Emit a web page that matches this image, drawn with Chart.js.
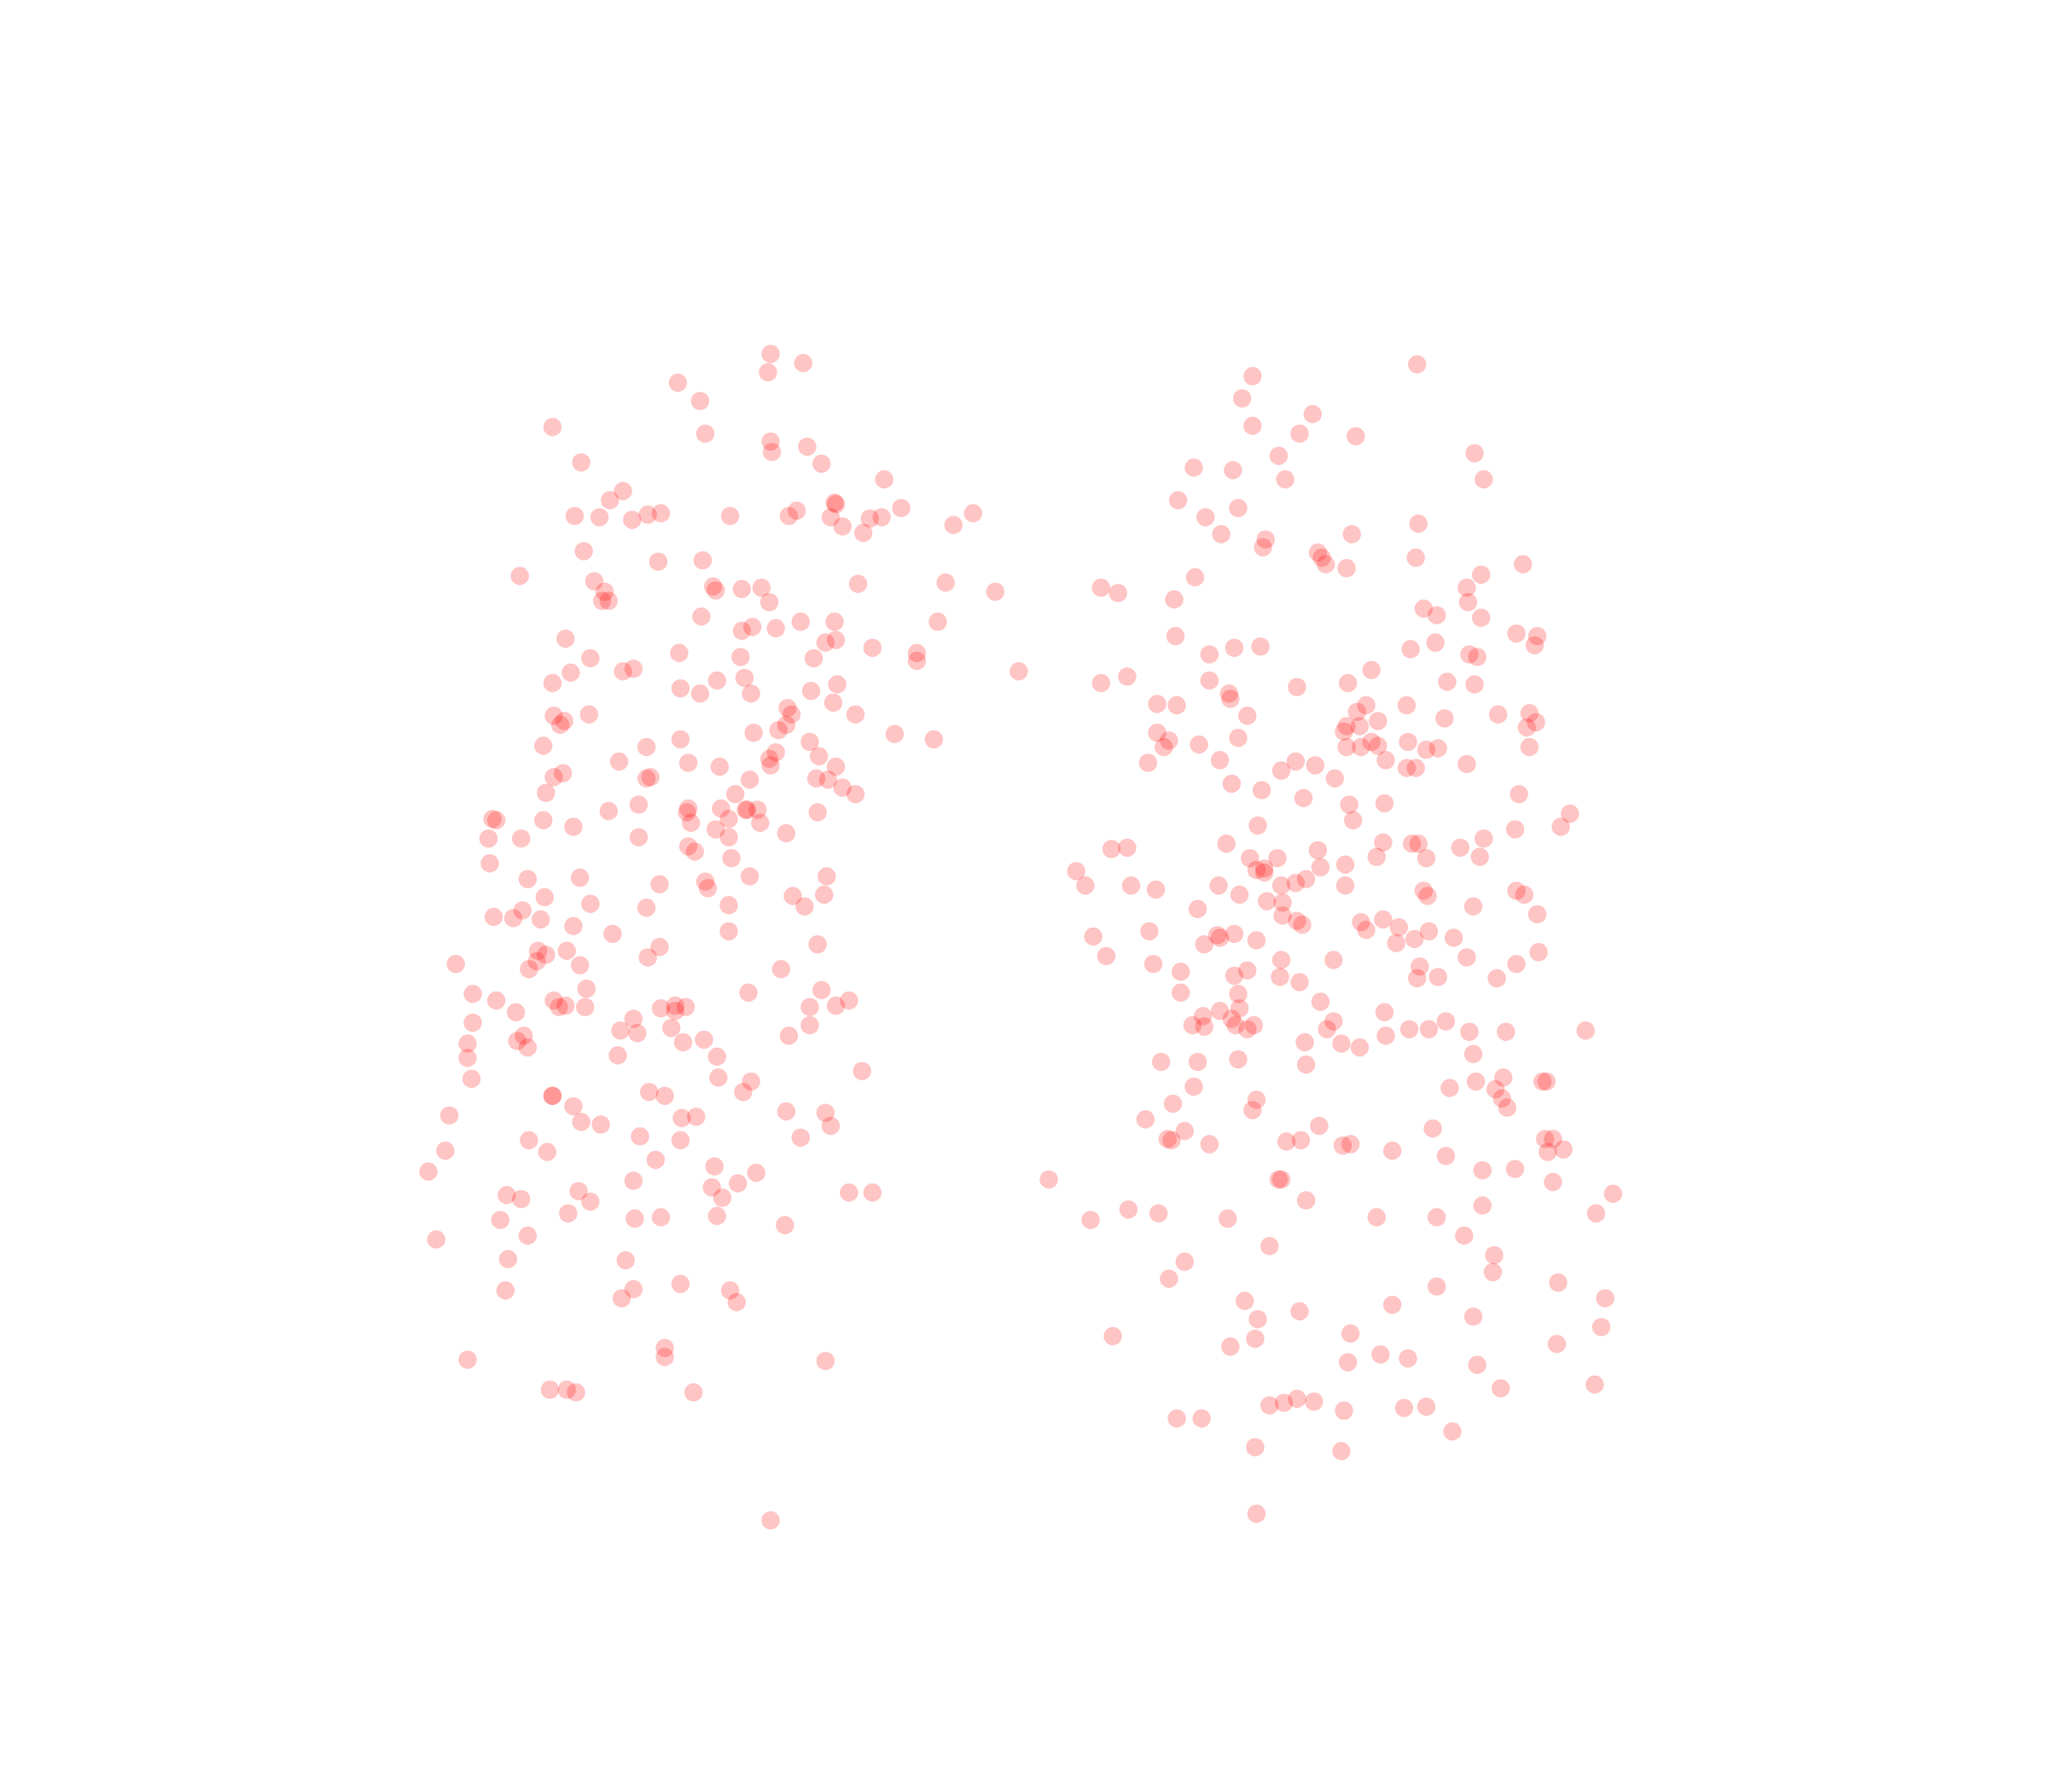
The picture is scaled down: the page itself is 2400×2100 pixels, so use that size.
<!DOCTYPE html>
<html>
<head>
<meta charset="utf-8">
<title>scatter</title>
<script src="https://cdn.jsdelivr.net/npm/chart.js@4/dist/chart.umd.min.js"></script>
<style>
  html, body { margin: 0; padding: 0; background: #fff; }
  canvas { display: block; }
</style>
</head>
<body>
<canvas id="myChart" width="2400" height="2100"></canvas>
<script>
'use strict';

// values, left group
let leftX = [590,615,588,519,536,423,540,590,591,618,445,629,677,477,467,440,459,484,496,506,559,604,610,639,640,636,645,661,666,675,690,730,745,
  447,504,538,398,455,463,461,466,546,548,568,583,589,657,724,762,537,613,639,718,568,576,594,433,632,640,668,520,567,623,702,702,452,437,477,485,780,
  423,570,549,521,536,575,621,641,638,603,606,602,596,655,451,424,432,429,577,685,715,521,620,416,495,474,527,551,594,589,590,627,640,574,625,634,645,655,
  431,424,495,498,418,563,489,466,527,526,552,571,572,580,558,529,582,626,416,377,380,439,548,558,602,374,399,489,527,532,560,375,404,444,505,540,542,574,633,
  417,607,631,616,558,452,495,400,378,393,414,439,558,469,626,505,412,418,434,496,411,405,444,349,598,449,362,573,629,380,424,428,433,448,395,506,517,517,525,620,640,650,
  362,485,475,488,514,620,401,396,404,358,523,539,604,358,473,549,361,550,660,575,497,509,569,423,423,439,344,445,460,522,533,602,632,636,405,490,521,613,419,341,502,547,328,579,
  485,565,545,443,388,399,452,553,650,668,435,383,486,506,549,601,404,334,389,479,521,485,387,476,559,564,509,509,358,632,421,434,441,531,590];
let leftY = [271,278,285,293,307,327,332,338,346,342,354,355,367,376,383,395,396,398,394,393,395,395,391,385,386,396,403,408,397,396,389,402,393,
  422,430,429,441,445,453,460,460,449,452,451,450,461,447,446,453,472,476,476,476,483,480,481,489,492,490,496,500,503,504,500,506,504,515,514,512,514,
  523,519,521,527,531,531,529,524,538,542,547,555,559,547,547,548,552,555,561,562,566,566,568,571,572,583,584,587,576,581,586,579,587,597,596,597,603,608,
  592,595,596,595,607,608,616,621,619,622,619,620,620,620,627,630,630,622,628,627,628,633,635,641,638,642,642,641,648,652,657,661,673,672,677,675,680,671,671,
  687,686,685,694,693,692,695,697,702,703,704,709,713,715,723,725,728,731,728,733,736,742,739,738,742,757,761,760,758,766,766,771,770,771,775,772,770,774,771,771,770,766,
  783,780,789,791,787,785,793,797,802,799,798,796,793,810,808,809,826,825,820,828,836,839,836,839,839,847,854,859,861,856,855,851,852,862,873,870,873,871,882,881,888,893,897,898,
  904,906,909,912,915,918,920,917,913,913,929,934,933,932,931,938,946,949,964,965,983,987,988,994,988,997,1032,1039,1041,1042,1064,1064,1066,1066,1164];

// values, right group
let rightX = [1085,959,951,1005,959,995,1038,1129,979,914,944,984,1136,902,948,923,1086,935,1035,969,967,1009,1012,1015,1031,1084,1166,1134,915,843,856,899,1123,1124,1090,1100,1134,900,1161,1177,1175,945,965,926,1080,1099,1125,1131,1050,
  843,863,926,993,1032,1108,1129,886,901,941,942,1077,1046,1039,955,1147,1171,1176,1106,1055,1031,1041,1029,1169,886,895,891,918,948,1031,1042,1050,1055,1078,1092,1101,1171,1061,879,934,992,981,1007,1077,1084,1123,1022,943,966,998,1163,1033,1060,1202,1036,963,1160,1195,1136,
  939,1059,1081,1086,1118,851,863,1009,1133,1054,1092,957,978,962,968,968,1011,1030,824,831,866,885,933,981,992,1000,1030,1161,1090,1093,1167,949,970,982,917,1128,982,993,997,1042,1059,1046,1071,1177,880,837,932,934,945,922,962,1094,1083,1069,1113,847,883,981,1021,1087,1123,1161,1178,904,955,945,980,995,1085,1101,1146,
  904,948,1011,949,934,921,913,922,943,946,955,960,1021,1016,1060,1079,1094,1107,1125,1153,1214,1061,999,1027,1041,1128,889,917,948,1000,914,1110,1130,1151,1145,1150,1154,1181,1184,898,962,959,877,907,1010,1097,894,897,926,985,996,1028,1034,1066,1183,1189,1185,1197,1107,1135,1160,803,979,981,1189,1000,1235,
  864,887,940,1054,1100,1135,1222,835,1121,972,1144,907,1143,895,1193,1100,953,1066,1229,995,963,1128,852,1034,961,1226,942,1192,1057,1078,1032,1131,1221,1149,972,983,993,1006,1029,1075,1092,901,920,1112,961,1027,962];
let rightY = [279,288,305,317,326,332,334,347,349,358,360,367,367,383,389,396,401,409,409,413,419,423,427,432,435,427,432,440,442,450,454,459,450,461,466,471,473,487,485,487,494,496,495,501,497,492,501,503,513,
  523,518,521,526,523,522,524,539,540,531,535,540,540,545,548,547,546,553,550,552,556,556,560,557,561,567,572,570,565,572,572,568,571,568,574,573,572,582,584,582,583,590,586,588,588,585,596,600,605,611,608,616,615,623,628,632,635,633,642,
  646,645,646,646,649,650,649,651,656,656,657,657,657,666,665,668,664,662,667,678,678,681,678,678,676,673,678,682,682,686,685,685,690,691,696,694,701,705,708,706,704,712,710,700,713,717,716,718,715,723,720,713,719,722,718,732,738,735,735,740,733,738,729,744,743,747,748,752,749,748,749,
  760,761,767,772,774,778,785,786,780,785,788,785,782,788,775,788,788,782,790,790,789,793,798,799,802,807,813,813,811,815,832,833,828,825,834,841,848,828,828,845,842,850,857,866,862,864,872,873,876,874,873,877,876,881,872,872,882,880,885,896,895,903,903,903,905,919,914,
  926,929,933,932,932,923,929,934,946,954,961,966,974,979,982,985,996,999,994,1004,1010,1008,1023,1021,1025,1016,1031,1029,1037,1040,1043,1045,1060,1063,1076,1074,1071,1073,1080,1078,1077,1086,1086,1096,1108,1111,1159];

let dotColor = 'rgba(255, 0, 0, 0.23)';

function toPoints(xs, ys) {
  let pts = [];
  for (let i = 0; i < xs.length; i++) {
    pts.push({ x: xs[i], y: ys[i] });
  }
  return pts;
}

let canvasChart = document.getElementById('myChart').getContext('2d');

new Chart(canvasChart, {
  type: 'scatter',
  data: {
    datasets: [
      { label: 'left', data: toPoints(leftX, leftY), pointBackgroundColor: dotColor, pointBorderWidth: 0, pointRadius: 10.7 },
      { label: 'right', data: toPoints(rightX, rightY), pointBackgroundColor: dotColor, pointBorderWidth: 0, pointRadius: 10.7 }
    ]
  },
  options: {
    responsive: false,
    animation: false,
    devicePixelRatio: 1,
    layout: { padding: 0, autoPadding: false },
    plugins: { legend: { display: false }, tooltip: { enabled: false } },
    scales: {
      x: { display: false, min: 0, max: 1568 },
      y: { display: false, min: 0, max: 1372, reverse: true }
    }
  }
});
</script>
</body>
</html>
